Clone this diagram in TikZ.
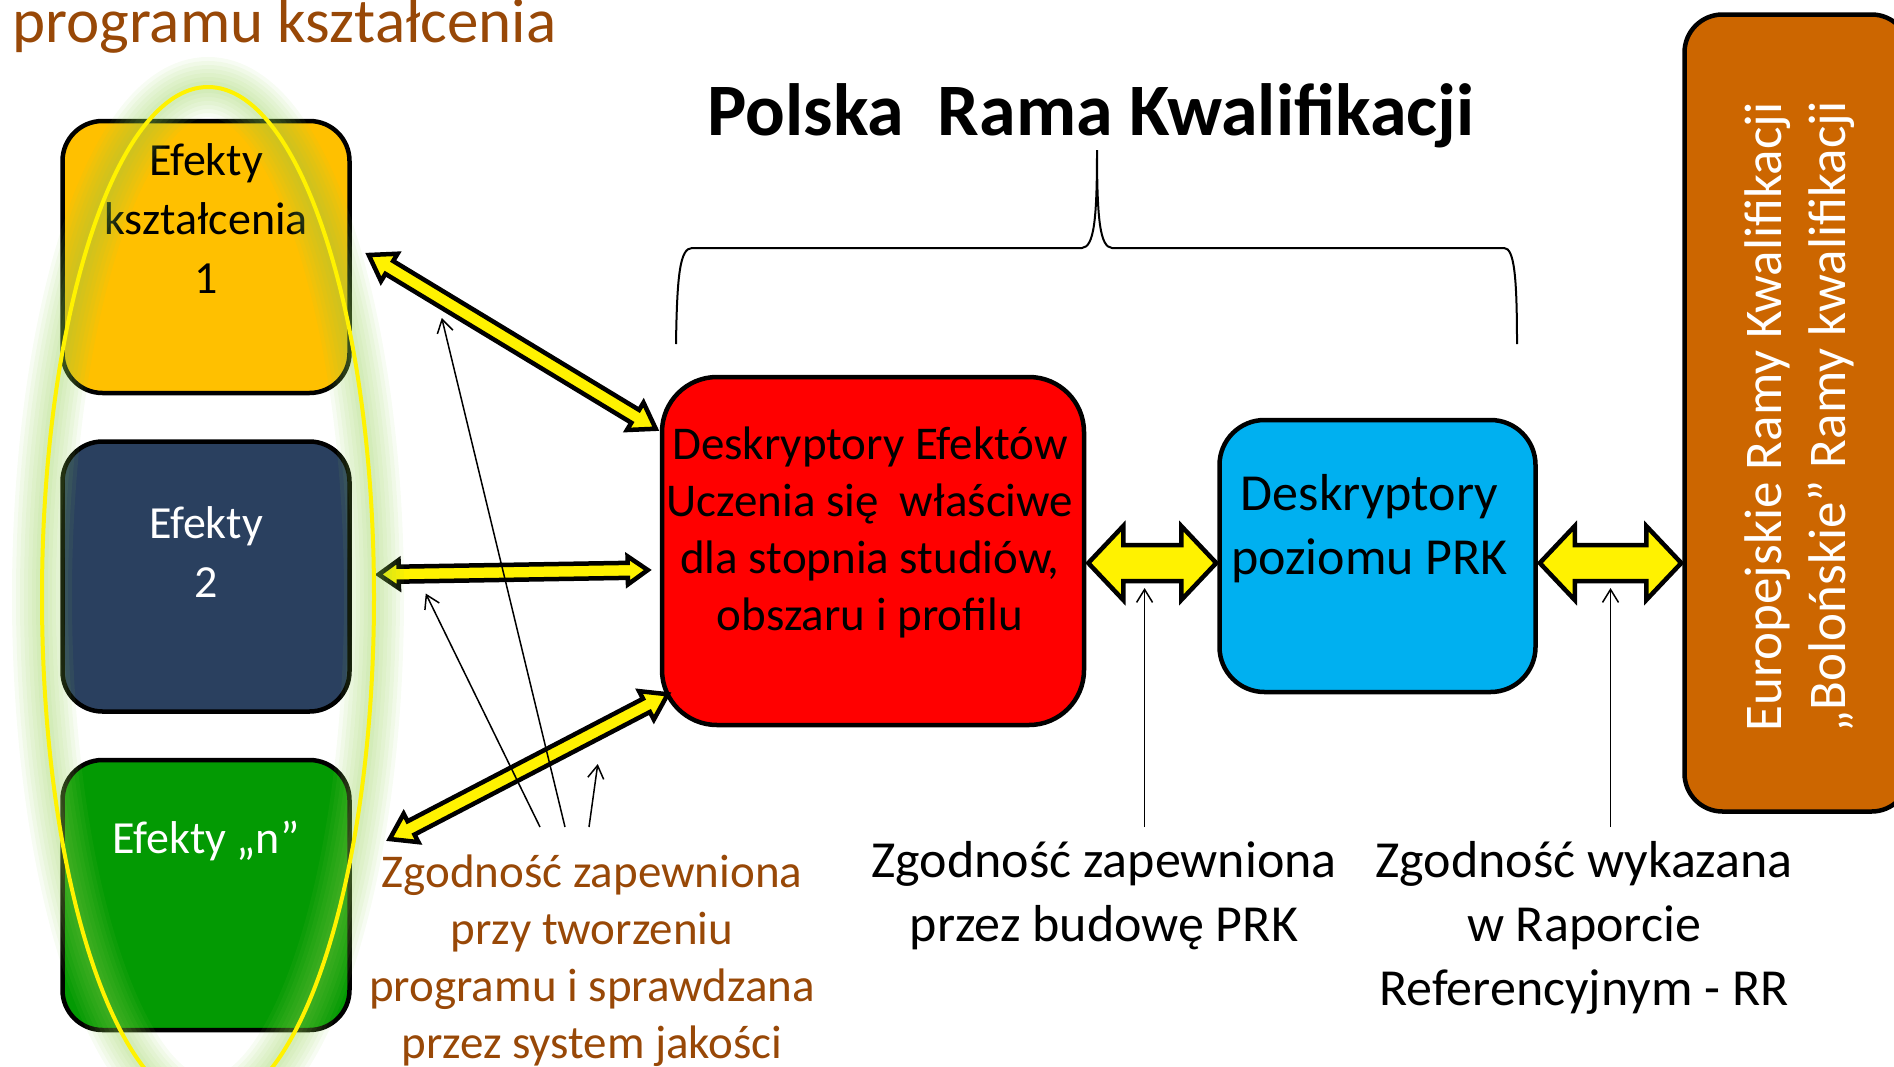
\documentclass[tikz,border=0pt]{standalone}
\usepackage{fontspec}
\setmainfont{Carlito}
\usepackage{tikz}
\usetikzlibrary{positioning}
\usetikzlibrary{calc,arrows.meta}
\definecolor{efone}{HTML}{FFC000}
\definecolor{eftwo}{HTML}{2A405F}
\definecolor{efn}{HTML}{039A03}
\definecolor{prkblue}{HTML}{00B0F0}
\definecolor{erkbrown}{HTML}{CC6600}
\definecolor{tbrown}{HTML}{984807}
\definecolor{glowgreen}{HTML}{92D050}
\tikzstyle{box} = [rectangle, draw, line width=4.5pt, rounded corners=40pt,
                minimum width=287pt, minimum height=272pt]
\tikzstyle{boxtext} = [align=center, inner sep=0pt, font=\fontsize{46}{59}\selectfont]
\tikzstyle{note} = [align=center, inner sep=0pt, anchor=north, font=\fontsize{52}{64}\selectfont]
\tikzstyle{line} = [draw, line width=1.5pt, -{Straight Barb[length=13pt,width=16pt]}]
\tikzstyle{yarrow} = [draw, fill=yellow, line width=4.5pt]
\tikzstyle{glow} = [draw=glowgreen, opacity=0.07]
% double block arrow: from, to, head length, head half width, shaft half width
\newcommand{\blockarrow}[5]{%
  \draw[yarrow] (#1) -- ($(#1)!#3!(#2)!#4!90:(#2)$) -- ($(#1)!#3!(#2)!#5!90:(#2)$)
    -- ($(#2)!#3!(#1)!#5!-90:(#1)$) -- ($(#2)!#3!(#1)!#4!-90:(#1)$) -- (#2)
    -- ($(#2)!#3!(#1)!#4!90:(#1)$) -- ($(#2)!#3!(#1)!#5!90:(#1)$)
    -- ($(#1)!#3!(#2)!#5!-90:(#2)$) -- ($(#1)!#3!(#2)!#4!-90:(#2)$) -- cycle;}

\begin{document}
\begin{tikzpicture}[x=1pt, y=-1pt]
        \clip (0,0) rectangle (1894,1066);
        \node[anchor=base west, inner sep=0pt, text=tbrown, font=\fontsize{63}{70}\selectfont](prog) at (12,42){programu kształcenia};
        \node[anchor=base, inner sep=0pt, font=\fontsize{74}{80}\selectfont\bfseries](prk) at (1091,135){Polska\ \ Rama Kwalifikacji};
        \draw[line width=2pt] (676,344) .. controls (677,275) and (680,248) .. (692,248) -- (1082,248)
            .. controls (1094,247) and (1097,220) .. (1097,150) .. controls (1097,220) and (1100,247) .. (1112,248)
            -- (1504,248) .. controls (1514,248) and (1517,275) .. (1517,344);
        % left column
        \node[box, fill=efone](ef1) at (206,257){};
        \node[box, fill=eftwo, minimum height=270pt, below=44pt of ef1](ef2){};
        \node[box, fill=efn, minimum height=270pt, below=44pt of ef2](ef3){};
        \node[boxtext, below=25pt of ef1.north](ef1t){Efekty\\kształcenia\\1};
        \node[boxtext, text=white, below=67pt of ef2.north](ef2t){Efekty\\2};
        \node[boxtext, text=white, below=63pt of ef3.north](ef3t){Efekty „n”};
        % descriptors
        \node[box, fill=red, minimum width=422pt, minimum height=348pt, rounded corners=55pt](deu) at (873,551){};
        \node[boxtext, font=\fontsize{47}{57}\selectfont, below=52pt of deu.north, xshift=-3pt](deut){Deskryptory Efektów\\Uczenia się\ \ właściwe\\dla stopnia studiów,\\obszaru i profilu};
        \node[box, fill=prkblue, minimum width=316pt, rounded corners=45pt, right=131pt of deu, yshift=-5pt](dprk){};
        \node[note, below=56pt of dprk.north, xshift=-8pt](dprkt){Deskryptory\\poziomu PRK};
        \node[box, fill=erkbrown, minimum width=225pt, minimum height=797pt, rounded corners=38pt](erk) at (1797,413){};
        \node[rotate=90, align=center, inner sep=0pt, text=white, font=\fontsize{53}{64}\selectfont](erkt) at (1800,417){Europejskie Ramy Kwalifikacji\\„Bolońskie” Ramy kwalifikacji};
        % captions
        \node[note, text=tbrown, font=\fontsize{47}{57}\selectfont](zg1) at (592,855){Zgodność zapewniona\\przy tworzeniu\\programu i sprawdzana\\przez system jakości};
        \node[note](zg2) at (1104,841){Zgodność zapewniona\\przez budowę PRK};
        \node[note](zg3) at (1584,841){Zgodność wykazana\\w Raporcie\\Referencyjnym - RR};
        % yellow arrows
        \coordinate (a1) at ($(ef1.east)+(17,-2)$);
        \coordinate (b1) at ($(deu.north west)+(-4,54)$);
        \coordinate (a2) at ($(ef2.east)+(27,-2)$);
        \coordinate (b2) at ($(deu.west)+(-12,19)$);
        \coordinate (a3) at ($(ef3.east)+(38,-56)$);
        \coordinate (b3) at ($(deu.south west)+(8,-33)$);
        \coordinate (c1) at ($(deu.east)+(2,12)$);
        \coordinate (d1) at ($(dprk.west)+(-1,7)$);
        \coordinate (c2) at ($(dprk.east)+(2,7)$);
        \coordinate (d2) at ($(erk.west)+(-1,150)$);
        \blockarrow{a1}{b1}{24pt}{16pt}{7.5pt}
        \blockarrow{a2}{b2}{20pt}{14pt}{7.5pt}
        \blockarrow{a3}{b3}{24pt}{16pt}{7.5pt}
        \blockarrow{c1}{d1}{35pt}{37pt}{18pt}
        \blockarrow{c2}{d2}{35pt}{37pt}{18pt}
        % thin arrows
        \coordinate (s1) at ($(zg1.north)+(-52,-28)$);
        \coordinate (s2) at ($(zg1.north)+(-27,-28)$);
        \coordinate (s3) at ($(zg1.north)+(-3,-28)$);
        \coordinate (t1) at ($(a2)+(47,19)$);
        \coordinate (t2) at ($(a1)+(73,63)$);
        \coordinate (t3) at ($(a3)+(208,-75)$);
        \coordinate (t4) at ($(c1)!0.44!(d1)+(0,25)$);
        \coordinate (t5) at ($(c2)!0.5!(d2)+(0,25)$);
        \path[line] (s1) -- (t1);
        \path[line] (s2) -- (t2);
        \path[line] (s3) -- (t3);
        \path[line] ($(t4 |- zg2.north)+(0,-14)$) -- (t4);
        \path[line] ($(t5 |- zg3.north)+(0,-14)$) -- (t5);
        % ellipse with glow
        \foreach \w in {60,52,...,12}
            \draw[glow, line width=\w pt] (208,597) ellipse [x radius=166pt, y radius=510pt];
        \draw[yellow, line width=4pt] (208,597) ellipse [x radius=166pt, y radius=510pt];
        \end{tikzpicture}
\end{document}
